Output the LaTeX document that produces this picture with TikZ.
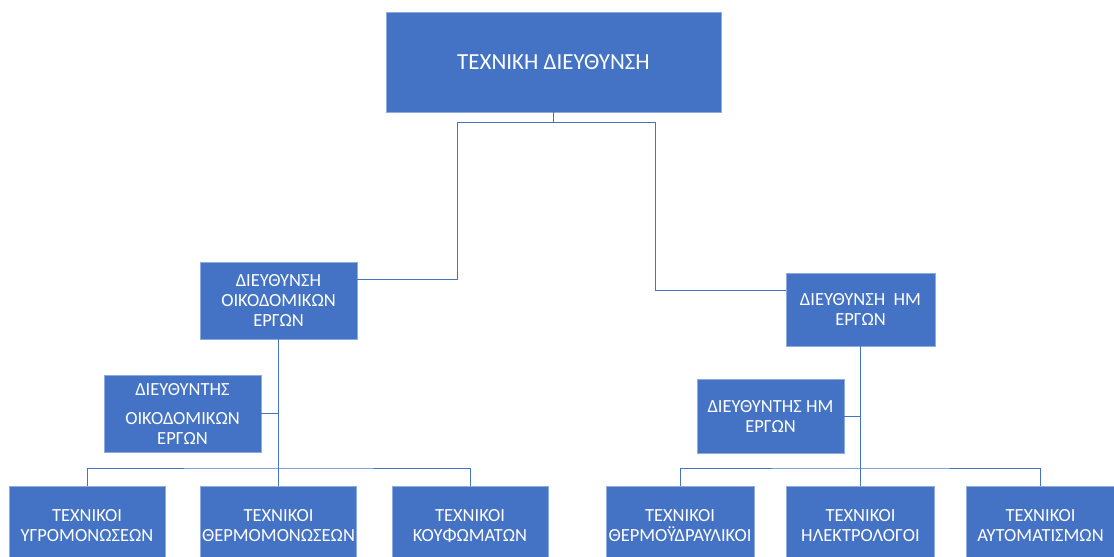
\documentclass[tikz,border=0pt]{standalone}
\usepackage{fontspec}
\setmainfont{Carlito}
\definecolor{boxfill}{HTML}{4472C4}
\definecolor{boxline}{HTML}{8FAADC}
\definecolor{conncol}{HTML}{4472C4}
\begin{document}
\begin{tikzpicture}[x=1pt,y=-1pt,
  box/.style={draw=boxline,line width=0.8pt,fill=boxfill,text=white,align=center,inner sep=2pt,
    font=\fontsize{18.5}{20}\selectfont},
  conn/.style={draw=conncol,line width=1pt}]
\useasboundingbox (0,0) rectangle (1114,557);
\begin{scope}
\clip (0,0) rectangle (1114,557);
\node[box,minimum width=335,minimum height=100,font=\fontsize{23}{26}\selectfont] (top) at (553.5,62) {ΤΕΧΝΙΚΗ ΔΙΕΥΘΥΝΣΗ};
\node[box,minimum width=157,minimum height=77] (ld) at (278.5,300.5) {ΔΙΕΥΘΥΝΣΗ\\ΟΙΚΟΔΟΜΙΚΩΝ\\ΕΡΓΩΝ};
\node[box,minimum width=149,minimum height=73] (rd) at (860.5,309.5) {ΔΙΕΥΘΥΝΣΗ\ \ ΗΜ\\ΕΡΓΩΝ};
\node[box,minimum width=157,minimum height=77] (lm) at (182.5,413.5) {ΔΙΕΥΘΥΝΤΗΣ\\[9pt]ΟΙΚΟΔΟΜΙΚΩΝ\\ΕΡΓΩΝ};
\node[box,minimum width=147,minimum height=74] (rm) at (770.5,416) {ΔΙΕΥΘΥΝΤΗΣ ΗΜ\\ΕΡΓΩΝ};
\node[box,minimum width=156,minimum height=80,anchor=north] (lb1) at (87,486) {};
\node[box,minimum width=156,minimum height=80,anchor=north] (lb2) at (278.5,486) {};
\node[box,minimum width=156,minimum height=80,anchor=north] (lb3) at (470,486) {};
\node[box,minimum width=148,minimum height=80,anchor=north] (rb1) at (680,486) {};
\node[box,minimum width=148,minimum height=80,anchor=north] (rb2) at (860.5,486) {};
\node[box,minimum width=148,minimum height=80,anchor=north] (rb3) at (1040.5,486) {};
\end{scope}
\begin{scope}[every node/.style={text=white,align=center,font=\fontsize{18.5}{20}\selectfont}]
\node (t1) at ([yshift=-40]lb1.north) {ΤΕΧΝΙΚΟΙ\\ΥΓΡΟΜΟΝΩΣΕΩΝ};
\node (t2) at ([yshift=-40]lb2.north) {ΤΕΧΝΙΚΟΙ\\ΘΕΡΜΟΜΟΝΩΣΕΩΝ};
\node (t3) at ([yshift=-40]lb3.north) {ΤΕΧΝΙΚΟΙ\\ΚΟΥΦΩΜΑΤΩΝ};
\node (t4) at ([yshift=-40]rb1.north) {ΤΕΧΝΙΚΟΙ\\ΘΕΡΜΟΫΔΡΑΥΛΙΚΟΙ};
\node (t5) at ([yshift=-40]rb2.north) {ΤΕΧΝΙΚΟΙ\\ΗΛΕΚΤΡΟΛΟΓΟΙ};
\node (t6) at ([yshift=-40]rb3.north) {ΤΕΧΝΙΚΟΙ\\ΑΥΤΟΜΑΤΙΣΜΩΝ};
\end{scope}
\coordinate (tb) at (553.5,122);
\coordinate (lj) at (457,279);
\coordinate (rj) at (655,290);
\coordinate (lbus) at (278.5,468);
\coordinate (rbus) at (860.5,468);
\draw[conn] (top.south) -- (tb);
\draw[conn] (tb) -| (lj) -- (lj -| ld.east);
\draw[conn] (tb) -| (rj) -- (rj -| rd.west);
\draw[conn] (ld.south) -- (lbus);
\draw[conn] (lm.east) -- (lm.east -| lbus);
\draw[conn] (lb1.north) |- (lbus) -| (lb3.north);
\draw[conn] (lbus) -- (lb2.north);
\draw[conn] (rd.south) -- (rbus);
\draw[conn] (rm.east) -- (rm.east -| rbus);
\draw[conn] (rb1.north) |- (rbus) -| (rb3.north);
\draw[conn] (rbus) -- (rb2.north);
\end{tikzpicture}
\end{document}
